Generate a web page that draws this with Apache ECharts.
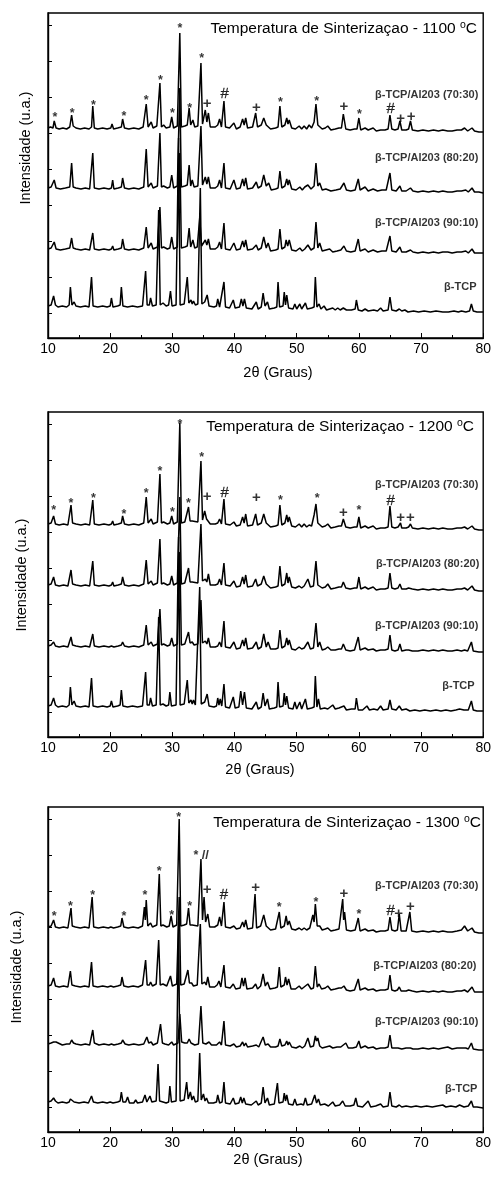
<!DOCTYPE html>
<html><head><meta charset="utf-8">
<script src="https://cdn.jsdelivr.net/npm/echarts@6/dist/echarts.min.js"></script>
<style>html,body{margin:0;padding:0;background:#fff}#c{width:494px;height:1183px}</style>
</head><body><div id="c"></div>
<script>
// ---------- data ----------
const xTickLabels = [10,20,30,40,50,60,70,80];
const yTickValues = [25,61,97,133,169,205,241,277,313];
const temps = ['1100','1200','1300'];
const sampleNames = ['β-TCP/Al203 (70:30)','β-TCP/Al203 (80:20)','β-TCP/Al203 (90:10)','β-TCP'];

// 1100 °C
const p1_7030 = [[10,210],[10.4,211],[10.8,210],[11.0,217],[11.3,210],[11.8,209],[12.4,210],[13.0,209],[13.5,211],[13.8,223],[14.05,212],[14.2,214],[14.5,210],[15.2,209],[15.9,210],[16.6,209],[17.0,211],[17.2,232],[17.45,210],[18.0,209],[18.8,210],[19.5,209],[20.1,210],[20.3,214],[20.55,209],[21.2,210],[21.8,211],[22.0,219],[22.3,210],[23.0,209],[23.8,210],[24.6,209],[25.3,211],[25.8,234],[26.1,211],[26.4,212],[26.6,216],[26.9,210],[27.5,212],[28.0,255],[28.25,211],[28.6,213],[29.0,210],[29.6,211],[29.9,221],[30.2,210],[30.8,212],[31.2,305],[31.45,211],[32.0,212],[32.4,213],[32.7,230],[32.95,213],[33.3,218],[33.6,211],[34.1,212],[34.6,275],[34.85,214],[35.3,228],[35.55,216],[35.8,225],[36.1,211],[36.9,211],[37.3,213],[37.6,219],[37.9,211],[38.3,237],[38.55,211],[39.2,210],[39.9,215],[40.3,209],[40.9,211],[41.3,219],[41.55,213],[41.8,220],[42.1,210],[42.9,211],[43.4,225],[43.7,211],[44.3,213],[44.7,220],[45.1,213],[45.4,215],[45.8,209],[46.6,210],[47.0,211],[47.3,232],[47.6,211],[48.1,213],[48.4,220],[48.6,214],[48.8,218],[49.2,210],[49.8,209],[50.4,212],[50.8,209],[51.2,212],[51.6,209],[52.0,213],[52.4,210],[52.8,216],[53.1,234],[53.4,213],[53.7,214],[54.1,209],[54.6,210],[55.0,212],[55.5,208],[56.2,209],[56.8,210],[57.2,210],[57.5,224],[57.9,209],[58.6,208],[59.3,209],[59.7,209],[60.0,220],[60.3,208],[61.0,210],[61.5,208],[62.3,210],[62.8,207],[63.5,208],[64.2,208],[64.7,209],[65.0,223],[65.3,209],[65.8,208],[66.3,209],[66.6,217],[66.9,208],[67.6,208],[68.0,209],[68.3,217],[68.6,208],[69.5,207],[70.3,208],[71.2,207],[72.0,208],[72.8,207],[73.5,208],[74.3,207],[75.0,207],[75.8,208],[76.5,208],[77.0,210],[77.5,207],[78.2,210],[78.6,207],[79.3,206],[80,206]];
const p1_8020 = [[10,150],[10.5,151],[10.8,150],[11.0,158],[11.3,150],[12.0,149],[12.8,150],[13.5,151],[13.8,175],[14.05,151],[14.2,153],[14.5,150],[15.3,149],[16.0,150],[16.7,149],[17.0,151],[17.2,185],[17.45,150],[18.2,149],[19.0,150],[19.8,149],[20.2,150],[20.4,158],[20.6,149],[21.3,150],[21.8,151],[22.0,160],[22.3,150],[23.0,149],[23.8,150],[24.6,149],[25.4,151],[25.8,189],[26.1,151],[26.4,152],[26.6,155],[26.9,150],[27.6,152],[28.0,205],[28.25,151],[28.6,152],[29.2,150],[29.6,151],[29.9,163],[30.2,150],[30.8,152],[31.2,250],[31.45,151],[32.0,152],[32.4,153],[32.7,173],[32.95,152],[33.2,158],[33.5,151],[34.1,152],[34.6,212],[34.85,153],[35.3,161],[35.55,154],[35.8,161],[36.1,150],[36.9,150],[37.3,152],[37.6,158],[37.9,150],[38.3,175],[38.55,150],[39.3,149],[39.9,158],[40.3,149],[40.9,150],[41.3,159],[41.55,152],[41.8,160],[42.1,149],[42.9,150],[43.5,156],[43.8,150],[44.3,152],[44.7,163],[45.1,152],[45.5,155],[45.9,148],[46.6,149],[47.0,150],[47.3,167],[47.6,150],[48.1,152],[48.4,159],[48.6,153],[48.8,158],[49.2,149],[49.9,148],[50.5,151],[50.9,148],[51.3,151],[51.8,153],[52.3,149],[52.8,152],[53.1,175],[53.4,152],[53.7,155],[54.1,148],[54.7,149],[55.0,151],[55.5,147],[56.3,148],[57.0,149],[57.6,155],[58.0,148],[58.7,147],[59.4,148],[59.9,159],[60.2,148],[61.0,151],[61.5,147],[62.3,149],[63.0,147],[63.7,148],[64.4,148],[64.7,149],[65.0,165],[65.3,148],[66.0,147],[66.6,152],[66.9,147],[67.6,147],[68.3,150],[68.7,147],[69.5,146],[70.3,147],[71.2,146],[72.0,147],[72.8,146],[73.5,147],[74.3,146],[75.0,146],[75.8,147],[76.5,147],[77.2,148],[77.6,146],[78.2,150],[78.6,146],[79.3,146],[80,145]];
const p1_9010 = [[10,89],[10.5,90],[10.8,89],[11.0,96],[11.3,89],[12.0,88],[12.8,89],[13.5,90],[13.8,100],[14.05,90],[14.2,92],[14.5,89],[15.3,88],[16.0,89],[16.7,88],[17.0,90],[17.2,105],[17.45,89],[18.2,88],[19.0,89],[19.8,88],[20.2,89],[20.4,92],[20.6,88],[21.3,89],[21.8,90],[22.0,99],[22.3,89],[23.0,88],[23.8,89],[24.6,88],[25.4,90],[25.8,111],[26.1,90],[26.4,91],[26.6,95],[26.9,89],[27.6,91],[28.0,131],[28.25,90],[28.6,91],[29.2,89],[29.6,90],[29.9,101],[30.2,89],[30.8,91],[31.2,185],[31.45,90],[32.0,91],[32.4,92],[32.7,110],[32.95,91],[33.3,98],[33.6,90],[34.0,91],[34.4,120],[34.7,92],[35.3,98],[35.55,93],[35.8,99],[36.1,89],[36.9,89],[37.3,91],[37.6,96],[37.9,89],[38.3,115],[38.55,89],[39.3,88],[39.9,95],[40.3,88],[40.9,89],[41.3,97],[41.55,91],[41.8,98],[42.1,88],[42.9,89],[43.5,93],[43.8,88],[44.3,90],[44.7,101],[45.1,90],[45.4,95],[45.8,87],[46.6,88],[47.0,89],[47.3,109],[47.6,89],[48.1,91],[48.3,98],[48.55,92],[48.8,98],[49.2,88],[49.9,87],[50.5,90],[50.9,87],[51.3,89],[51.8,93],[52.3,88],[52.8,90],[53.1,116],[53.4,90],[53.7,95],[54.1,87],[54.7,88],[55.3,89],[55.8,86],[56.5,87],[57.1,88],[57.6,92],[58.0,87],[58.7,86],[59.4,87],[59.9,99],[60.2,87],[61.0,89],[61.5,86],[62.3,88],[63.0,86],[63.7,87],[64.4,87],[64.7,88],[65.0,102],[65.3,87],[66.0,86],[66.6,91],[66.9,86],[67.6,86],[68.3,88],[68.7,86],[69.5,85],[70.3,86],[71.2,85],[72.0,86],[72.8,85],[73.5,86],[74.3,86],[75.0,85],[75.8,86],[76.5,86],[77.2,87],[77.6,85],[78.2,89],[78.6,85],[79.3,85],[80,85]];
const p1_tcp = [[10,32],[10.5,33],[10.7,32],[10.9,42],[11.2,33],[11.6,31],[12.3,32],[13.0,31],[13.4,33],[13.6,51],[13.85,33],[14.2,36],[14.5,32],[15.2,31],[16.0,32],[16.6,31],[16.8,33],[17.0,61],[17.25,32],[18.0,31],[18.8,32],[19.5,31],[20.0,32],[20.2,40],[20.45,31],[21.2,32],[21.6,33],[21.8,51],[22.05,32],[22.8,31],[23.6,32],[24.4,31],[25.2,32],[25.5,33],[25.7,67],[25.95,33],[26.3,33],[26.5,40],[26.8,32],[27.4,33],[27.8,128],[28.05,33],[28.5,35],[29.0,32],[29.4,33],[29.7,47],[29.95,32],[30.6,33],[31.0,200],[31.25,33],[31.9,34],[32.2,35],[32.4,61],[32.65,35],[33.0,38],[33.2,34],[33.4,37],[33.7,33],[34.1,34],[34.5,150],[34.75,34],[35.2,36],[35.4,34],[35.6,43],[35.9,32],[36.7,31],[37.1,32],[37.3,39],[37.6,31],[37.9,32],[38.3,56],[38.55,31],[39.2,30],[39.8,38],[40.1,30],[40.8,31],[41.1,39],[41.35,32],[41.6,39],[41.9,30],[42.8,29],[43.5,36],[43.8,29],[44.3,31],[44.6,45],[44.9,32],[45.3,36],[45.6,29],[46.4,30],[46.8,31],[47.0,56],[47.25,31],[47.8,32],[48.0,46],[48.2,33],[48.4,43],[48.7,30],[49.4,29],[49.7,34],[50.0,29],[50.5,34],[50.8,29],[51.4,35],[51.7,29],[52.4,30],[52.8,31],[53.0,61],[53.25,31],[53.6,34],[53.9,29],[54.4,32],[54.8,28],[55.8,30],[56.2,28],[56.6,30],[57.0,28],[57.5,30],[58.0,28],[58.8,28],[59.4,29],[59.6,38],[59.9,28],[60.5,27],[61.0,29],[61.5,27],[62.4,28],[63.0,27],[63.5,30],[63.9,27],[64.7,28],[65.0,41],[65.3,28],[66.0,27],[66.5,29],[66.9,27],[67.4,28],[67.9,26],[68.8,27],[69.6,26],[70.5,27],[71.5,26],[72.4,27],[73.5,26],[74.4,26],[75.3,27],[76.0,26],[76.5,27],[77.2,26],[77.8,27],[78.1,34],[78.4,27],[79.0,26],[80,26]];

// 1200 °C
const p2_7030 = [[10,213],[10.5,214],[10.7,213],[10.9,221],[11.2,213],[11.8,212],[12.5,213],[13.2,212],[13.5,214],[13.7,232],[13.95,214],[14.2,215],[14.5,213],[15.3,212],[16.0,213],[16.7,212],[17.0,214],[17.2,237],[17.45,213],[18.2,212],[19.0,213],[19.8,212],[20.2,213],[20.4,216],[20.6,212],[21.3,213],[21.8,214],[22.0,221],[22.3,213],[23.0,212],[23.8,213],[24.6,212],[25.4,214],[25.8,240],[26.1,214],[26.4,214],[26.6,218],[26.9,213],[27.6,215],[28.0,263],[28.25,214],[28.6,215],[29.2,213],[29.6,214],[29.9,221],[30.2,213],[30.8,215],[31.2,314],[31.45,214],[32.0,215],[32.3,216],[32.6,230],[32.85,216],[33.2,216],[33.5,214],[34.1,215],[34.6,276],[34.85,217],[35.2,226],[35.5,218],[35.8,220],[36.1,213],[36.9,213],[37.3,214],[37.6,218],[37.9,213],[38.3,238],[38.55,213],[39.3,212],[39.9,215],[40.3,211],[40.9,212],[41.3,220],[41.55,214],[41.8,223],[42.1,211],[42.9,212],[43.4,223],[43.7,212],[44.3,214],[44.7,223],[45.1,214],[45.4,216],[45.8,210],[46.6,211],[47.0,212],[47.3,232],[47.6,212],[48.1,214],[48.4,222],[48.6,215],[48.8,220],[49.2,211],[49.8,210],[50.4,213],[50.8,210],[51.2,213],[51.6,210],[52.0,212],[52.4,211],[52.8,222],[53.1,233],[53.4,214],[53.7,215],[54.1,210],[54.6,211],[55.0,213],[55.5,209],[56.2,210],[56.8,211],[57.2,211],[57.5,218],[57.9,210],[58.6,209],[59.3,210],[59.7,210],[60.0,220],[60.3,209],[61.0,211],[61.5,209],[62.3,211],[62.8,208],[63.5,209],[64.2,209],[64.7,210],[65.0,231],[65.3,210],[65.8,209],[66.3,210],[66.7,214],[66.9,209],[67.6,209],[68.0,210],[68.3,213],[68.6,209],[69.5,208],[70.3,209],[71.2,208],[72.0,209],[72.8,208],[73.5,209],[74.3,208],[75.0,208],[75.8,209],[76.5,209],[77.0,210],[77.5,208],[78.2,211],[78.6,208],[79.3,207],[80,207]];
const p2_8020 = [[10,152],[10.5,153],[10.7,152],[10.9,160],[11.2,152],[11.8,151],[12.5,152],[13.2,151],[13.5,153],[13.7,167],[13.95,153],[14.2,154],[14.5,152],[15.3,151],[16.0,152],[16.7,151],[17.0,153],[17.2,176],[17.45,152],[18.2,151],[19.0,152],[19.8,151],[20.2,152],[20.4,155],[20.6,151],[21.3,152],[21.8,153],[22.0,160],[22.3,152],[23.0,151],[23.8,152],[24.6,151],[25.4,153],[25.8,177],[26.1,153],[26.4,153],[26.6,156],[26.9,152],[27.6,154],[28.0,198],[28.25,153],[28.6,154],[29.2,152],[29.6,153],[29.9,161],[30.2,152],[30.8,154],[31.2,240],[31.45,153],[32.0,154],[32.3,155],[32.6,169],[32.85,155],[33.2,155],[33.5,153],[34.1,154],[34.6,213],[34.85,156],[35.3,158],[35.55,155],[35.8,163],[36.1,152],[36.9,152],[37.3,153],[37.6,158],[37.9,152],[38.3,174],[38.55,152],[39.3,151],[39.9,156],[40.3,150],[40.9,151],[41.3,160],[41.55,153],[41.8,162],[42.1,150],[42.9,151],[43.4,158],[43.7,151],[44.3,153],[44.7,161],[45.1,153],[45.4,155],[45.8,149],[46.6,150],[47.0,151],[47.3,171],[47.6,151],[48.1,153],[48.4,164],[48.6,154],[48.8,160],[49.2,150],[49.8,149],[50.4,151],[50.8,149],[51.2,151],[51.8,158],[52.2,150],[52.7,151],[53.1,176],[53.4,152],[53.7,153],[54.1,149],[54.6,150],[55.0,153],[55.5,148],[56.2,149],[56.8,150],[57.2,150],[57.5,155],[57.9,149],[58.6,148],[59.3,149],[59.7,149],[60.0,160],[60.3,148],[61.0,150],[61.5,148],[62.3,150],[62.8,147],[63.5,148],[64.2,148],[64.7,149],[65.0,164],[65.3,149],[65.8,148],[66.3,149],[66.6,153],[66.9,148],[67.6,148],[68.0,149],[68.3,151],[68.6,148],[69.5,147],[70.3,148],[71.2,147],[72.0,148],[72.8,147],[73.5,148],[74.3,147],[75.0,147],[75.8,148],[76.5,148],[77.0,149],[77.5,147],[78.2,151],[78.6,147],[79.3,146],[80,146]];
const p2_9010 = [[10,91],[10.5,92],[10.7,91],[10.9,95],[11.2,91],[11.8,90],[12.5,91],[13.2,90],[13.5,92],[13.7,100],[13.95,92],[14.2,93],[14.5,91],[15.3,90],[16.0,91],[16.7,90],[17.0,92],[17.2,103],[17.45,91],[18.2,90],[19.0,91],[19.8,90],[20.2,91],[20.4,93],[20.6,90],[21.3,91],[21.8,92],[22.0,95],[22.3,91],[23.0,90],[23.8,91],[24.6,90],[25.4,92],[25.8,112],[26.1,92],[26.4,92],[26.6,95],[26.9,91],[27.6,93],[28.0,128],[28.25,92],[28.6,93],[29.2,91],[29.6,92],[29.9,99],[30.2,91],[30.8,93],[31.2,185],[31.45,92],[32.0,93],[32.3,94],[32.6,105],[32.85,94],[33.2,95],[33.5,92],[34.1,93],[34.6,137],[34.85,94],[35.3,96],[35.55,93],[35.8,99],[36.1,90],[36.9,90],[37.3,91],[37.6,95],[37.9,90],[38.3,116],[38.55,90],[39.3,89],[39.9,95],[40.3,88],[40.9,89],[41.3,97],[41.55,91],[41.8,99],[42.1,88],[42.9,89],[43.5,95],[43.8,88],[44.3,90],[44.7,103],[45.1,90],[45.4,95],[45.8,88],[46.6,88],[47.0,89],[47.3,107],[47.6,89],[48.1,91],[48.4,99],[48.6,92],[48.8,97],[49.2,88],[49.8,87],[50.4,90],[50.8,88],[51.2,89],[51.8,95],[52.2,88],[52.7,89],[53.1,114],[53.4,90],[53.7,95],[54.1,87],[54.6,88],[55.0,90],[55.5,87],[56.2,87],[56.8,88],[57.2,88],[57.5,93],[57.9,87],[58.6,86],[59.3,87],[59.6,88],[59.9,100],[60.2,87],[61.0,89],[61.5,87],[62.3,88],[62.8,86],[63.5,87],[64.2,87],[64.7,88],[65.0,102],[65.3,87],[65.8,86],[66.3,87],[66.6,93],[66.9,86],[67.6,87],[68.0,87],[68.3,89],[68.6,86],[69.5,86],[70.3,87],[71.2,86],[72.0,87],[72.8,86],[73.5,87],[74.3,86],[75.0,86],[75.8,87],[76.5,86],[77.0,87],[77.5,86],[78.1,95],[78.4,86],[79.3,85],[80,85]];
const p2_tcp = [[10,31],[10.5,32],[10.7,31],[10.9,39],[11.2,32],[11.6,30],[12.3,31],[13.0,30],[13.4,32],[13.6,50],[13.85,32],[14.2,36],[14.5,31],[15.2,30],[16.0,31],[16.6,30],[16.8,32],[17.0,59],[17.25,31],[18.0,30],[18.8,31],[19.5,30],[20.0,31],[20.2,36],[20.45,30],[21.2,31],[21.6,32],[21.8,47],[22.05,31],[22.8,30],[23.6,31],[24.4,30],[25.2,31],[25.5,32],[25.7,65],[25.95,32],[26.3,32],[26.5,39],[26.8,31],[27.4,32],[27.8,120],[28.05,32],[28.5,33],[29.0,31],[29.4,32],[29.6,45],[29.85,31],[30.6,32],[31.0,200],[31.25,32],[31.9,33],[32.2,34],[32.4,57],[32.65,34],[33.0,37],[33.2,33],[33.4,37],[33.7,32],[34.0,33],[34.4,150],[34.65,33],[35.2,35],[35.4,33],[35.6,43],[35.9,31],[36.7,30],[37.1,31],[37.3,39],[37.5,32],[37.7,38],[37.95,31],[38.3,53],[38.55,30],[39.2,29],[39.8,40],[40.1,29],[40.7,30],[41.0,46],[41.3,32],[41.6,45],[41.9,29],[42.8,28],[43.5,35],[43.8,28],[44.3,30],[44.6,44],[44.9,31],[45.3,38],[45.6,28],[46.4,29],[46.8,30],[47.0,55],[47.25,30],[47.8,31],[48.0,44],[48.2,32],[48.4,41],[48.7,29],[49.4,28],[49.7,35],[50.0,28],[50.5,35],[50.8,28],[51.4,38],[51.7,28],[52.4,29],[52.8,30],[53.0,61],[53.25,30],[53.5,38],[53.8,28],[54.5,29],[55.0,28],[55.8,32],[56.2,28],[56.8,29],[57.6,31],[58.0,27],[58.8,28],[59.4,28],[59.6,39],[59.9,27],[60.6,27],[61.3,31],[61.7,27],[62.4,28],[63.0,27],[63.5,31],[63.9,27],[64.7,28],[65.0,37],[65.3,28],[66.0,27],[66.5,31],[66.9,27],[67.6,28],[68.2,26],[69.0,27],[69.8,26],[70.6,27],[71.5,26],[72.4,27],[73.2,26],[74.0,27],[74.8,26],[75.6,27],[76.2,28],[76.5,30],[76.9,27],[77.6,27],[78.1,36],[78.4,27],[79.0,26],[80,26]];

// 1300 °C
const p3_7030 = [[10,205],[10.5,206],[10.7,205],[10.9,212],[11.2,205],[11.8,204],[12.5,205],[13.2,204],[13.5,206],[13.7,224],[13.9,206],[14.1,208],[14.4,205],[15.2,204],[15.9,205],[16.6,204],[16.9,206],[17.1,235],[17.35,205],[18.1,204],[18.9,205],[19.7,204],[20.1,205],[20.3,207],[20.55,204],[21.2,205],[21.7,206],[21.9,214],[22.2,205],[22.9,204],[23.7,205],[24.5,204],[25.2,206],[25.5,225],[25.65,212],[25.8,232],[26.05,206],[26.3,206],[26.5,209],[26.8,205],[27.5,207],[27.9,258],[28.15,206],[28.5,207],[29.1,205],[29.5,206],[29.8,216],[30.1,205],[30.7,207],[31.1,313],[31.35,206],[31.9,207],[32.3,208],[32.6,224],[32.85,207],[33.2,207],[33.5,205],[34.1,206],[34.6,273],[34.85,212],[35.1,235],[35.35,210],[35.7,218],[36.0,205],[36.8,205],[37.3,207],[37.6,215],[37.9,206],[38.3,230],[38.55,205],[39.3,204],[39.9,206],[40.3,203],[40.9,204],[41.3,210],[41.55,205],[41.8,212],[42.1,203],[42.9,204],[43.3,238],[43.55,204],[44.2,206],[44.7,217],[45.1,206],[45.4,208],[45.8,202],[46.6,203],[46.9,204],[47.2,220],[47.45,204],[48.0,206],[48.3,216],[48.55,207],[48.8,211],[49.2,203],[49.8,202],[50.4,204],[50.8,202],[51.2,204],[51.6,202],[52.1,204],[52.6,217],[52.8,210],[53.0,228],[53.3,206],[53.7,206],[54.1,202],[54.6,203],[55.0,204],[55.5,201],[56.2,202],[56.8,203],[57.1,204],[57.4,233],[57.55,212],[57.7,220],[58.0,202],[58.7,201],[59.4,202],[59.7,203],[59.9,214],[60.2,201],[61.0,203],[61.5,201],[62.3,202],[62.8,200],[63.5,201],[64.2,201],[64.7,202],[65.0,215],[65.3,202],[65.8,201],[66.2,202],[66.5,218],[66.8,201],[67.6,201],[67.9,202],[68.2,220],[68.5,201],[69.3,200],[70.3,201],[71.2,200],[72.0,201],[72.8,200],[73.5,201],[74.3,200],[75.0,200],[75.8,201],[76.5,202],[77.0,206],[77.5,201],[78.2,204],[78.6,200],[79.3,199],[80,199]];
const p3_8020 = [[10,146],[10.5,147],[10.7,146],[10.9,154],[11.2,146],[11.8,145],[12.5,146],[13.2,145],[13.4,147],[13.6,161],[13.85,147],[14.1,148],[14.4,146],[15.2,145],[15.9,146],[16.6,145],[16.8,147],[17.0,170],[17.25,146],[18.0,145],[18.8,146],[19.6,145],[20.1,146],[20.3,148],[20.55,145],[21.2,146],[21.7,147],[21.9,155],[22.2,146],[22.9,145],[23.7,146],[24.5,145],[25.2,147],[25.7,172],[25.95,147],[26.3,147],[26.5,150],[26.8,146],[27.4,148],[27.8,192],[28.05,147],[28.5,148],[29.1,146],[29.4,147],[29.7,156],[30.0,146],[30.7,148],[31.1,235],[31.35,147],[31.9,148],[32.2,149],[32.5,162],[32.75,149],[33.1,149],[33.4,146],[34.0,147],[34.5,208],[34.75,148],[35.2,150],[35.45,147],[35.7,155],[36.0,145],[36.8,145],[37.2,147],[37.5,151],[37.8,145],[38.3,167],[38.55,145],[39.3,144],[39.8,148],[40.2,143],[40.9,144],[41.2,154],[41.45,146],[41.7,154],[42.0,143],[42.9,144],[43.4,148],[43.7,143],[44.2,146],[44.6,158],[44.95,146],[45.3,150],[45.7,143],[46.5,144],[46.9,145],[47.2,165],[47.45,145],[48.0,147],[48.2,155],[48.45,147],[48.7,153],[49.1,143],[49.8,143],[50.4,146],[50.8,143],[51.2,145],[51.8,148],[52.3,143],[52.7,144],[53.0,166],[53.3,145],[53.6,148],[54.0,143],[54.6,144],[55.0,146],[55.5,142],[56.2,143],[56.8,144],[57.2,144],[57.6,146],[58.0,142],[58.6,141],[59.3,142],[59.6,143],[59.9,153],[60.2,142],[61.0,144],[61.5,142],[62.3,143],[62.8,141],[63.5,142],[64.2,142],[64.7,143],[65.0,157],[65.3,142],[65.8,141],[66.2,142],[66.5,145],[66.8,141],[67.6,141],[68.0,142],[68.3,143],[68.6,141],[69.3,140],[70.3,141],[71.2,140],[72.0,141],[72.8,140],[73.5,141],[74.3,140],[75.0,140],[75.8,141],[76.5,141],[77.0,142],[77.5,140],[78.2,145],[78.6,140],[79.3,140],[80,140]];
const p3_9010 = [[10,88],[10.5,89],[10.7,88],[10.9,90],[11.1,88],[11.3,90],[11.6,88],[12.3,87],[13.0,88],[13.5,88],[13.8,92],[14.1,89],[14.5,88],[15.3,87],[16.0,88],[16.7,87],[17.0,89],[17.2,102],[17.45,89],[18.2,87],[19.0,88],[19.8,87],[20.2,88],[20.4,89],[20.6,87],[21.3,88],[21.8,89],[22.0,92],[22.4,88],[23.0,87],[23.8,88],[24.6,87],[25.4,88],[25.9,95],[26.2,89],[26.6,90],[26.9,87],[27.6,89],[28.1,108],[28.4,89],[28.8,88],[29.4,87],[29.9,90],[30.2,87],[30.9,89],[31.2,118],[31.5,90],[32.0,89],[32.4,89],[32.7,93],[33.0,89],[33.3,89],[33.6,87],[34.2,88],[34.6,126],[34.9,89],[35.4,88],[35.9,90],[36.3,87],[37.1,87],[37.6,90],[37.9,87],[38.3,111],[38.55,87],[39.3,86],[39.9,88],[40.3,85],[40.9,86],[41.3,90],[41.55,86],[41.8,89],[42.1,85],[42.9,86],[43.5,87],[43.9,85],[44.6,95],[44.95,87],[45.4,88],[45.8,85],[46.6,85],[47.0,86],[47.3,93],[47.6,86],[48.1,87],[48.4,91],[48.6,87],[48.8,90],[49.2,85],[49.9,84],[50.5,86],[50.9,84],[51.3,86],[51.8,94],[52.2,85],[52.7,86],[53.0,96],[53.2,91],[53.4,94],[53.7,86],[54.1,84],[54.7,85],[55.3,86],[55.8,84],[56.5,85],[57.1,85],[57.9,89],[58.3,84],[59.0,84],[59.6,85],[60.0,91],[60.3,84],[61.0,86],[61.5,84],[62.3,85],[62.8,83],[63.5,84],[64.2,84],[64.7,85],[65.0,97],[65.3,84],[65.8,84],[66.3,84],[66.6,86],[66.9,83],[67.6,84],[68.3,84],[68.7,83],[69.5,83],[70.3,84],[71.2,83],[72.0,84],[72.8,83],[73.5,84],[74.3,85],[75.0,83],[75.8,84],[76.5,84],[77.2,84],[77.6,83],[78.1,89],[78.4,83],[79.3,82],[80,82]];
const p3_tcp = [[10,30],[10.5,31],[10.7,30],[10.9,34],[11.2,31],[11.6,29],[12.3,30],[13.0,29],[13.4,30],[13.6,33],[13.75,31],[13.9,33],[14.2,30],[15.0,29],[15.8,30],[16.5,29],[16.8,31],[17.0,36],[17.3,30],[18.0,29],[18.8,30],[19.5,29],[20.0,30],[20.2,31],[20.45,29],[21.2,30],[21.6,31],[21.8,40],[22.05,30],[22.5,30],[22.8,35],[23.1,29],[23.8,29],[24.1,32],[24.4,29],[25.2,30],[25.6,37],[25.9,30],[26.2,30],[26.4,36],[26.7,30],[27.4,31],[27.7,68],[27.95,31],[28.5,30],[29.0,29],[29.4,30],[29.6,46],[29.85,30],[30.6,31],[31.0,210],[31.25,31],[31.9,32],[32.1,33],[32.3,50],[32.55,33],[32.9,40],[33.15,32],[33.4,36],[33.7,30],[34.1,31],[34.4,79],[34.65,32],[35.0,38],[35.25,31],[35.5,34],[35.8,29],[36.6,29],[37.1,30],[37.3,37],[37.6,29],[38.0,30],[38.3,50],[38.55,29],[39.3,28],[39.8,34],[40.1,28],[40.7,29],[41.0,35],[41.25,29],[41.5,34],[41.8,28],[42.7,27],[43.5,31],[43.8,27],[44.3,29],[44.6,45],[44.9,29],[45.3,34],[45.6,27],[46.4,28],[46.7,29],[46.9,49],[47.15,29],[47.8,30],[48.0,39],[48.2,31],[48.4,37],[48.7,28],[49.4,27],[49.7,33],[50.0,27],[50.7,28],[51.1,27],[51.4,34],[51.7,27],[52.4,28],[52.9,37],[53.2,29],[53.5,33],[53.8,27],[54.5,28],[55.1,26],[55.8,30],[56.2,26],[56.9,27],[57.4,31],[57.8,26],[58.6,26],[59.2,27],[59.5,34],[59.8,26],[60.6,25],[61.5,31],[61.9,25],[62.7,26],[63.5,28],[63.9,25],[64.7,26],[65.0,40],[65.3,26],[66.0,25],[66.5,27],[66.9,25],[67.6,26],[68.4,25],[69.2,26],[70.0,25],[70.9,26],[71.8,25],[72.6,26],[73.5,27],[74.0,25],[74.8,26],[75.6,25],[76.2,27],[76.5,28],[76.9,25],[77.6,26],[78.1,31],[78.4,25],[79.0,25],[80,24]];

// peak markers [2θ, intensity, symbol]
const marks1 = [[11.1,224,'*'],[13.9,228,'*'],[17.3,236,'*'],[22.2,225,'*'],[25.8,241,'*'],[28.1,261,'*'],[30.0,228,'*'],[31.2,313,'*'],[32.8,233,'*'],[34.7,283,'*'],[35.6,235,'+'],[38.4,245,'#'],[43.5,231,'+'],[47.4,239,'*'],[53.2,240,'*'],[57.6,232,'+'],[60.1,227,'*'],[65.1,230,'#'],[66.7,220,'+'],[68.4,222,'+']];
const marks2 = [[10.9,230,'*'],[13.7,237,'*'],[17.3,242,'*'],[22.2,226,'*'],[25.8,247,'*'],[28.0,269,'*'],[30.0,228,'*'],[31.2,316,'*'],[32.6,237,'*'],[34.7,283,'*'],[35.6,241,'+'],[38.4,245,'#'],[43.5,240,'+'],[47.4,240,'*'],[53.3,242,'*'],[57.5,225,'+'],[60.0,230,'*'],[65.1,237,'#'],[66.7,220,'+'],[68.3,220,'+']];
const marks3 = [[11.0,219,'*'],[13.6,229,'*'],[17.2,240,'*'],[22.2,219,'*'],[25.6,240,'*'],[27.9,264,'*'],[29.9,220,'*'],[31.0,318,'*'],[32.8,229,'*'],[33.8,280,'*'],[35.3,278,'//'],[35.6,243,'+'],[38.3,238,'#'],[43.4,245,'+'],[47.2,228,'*'],[53.1,233,'*'],[57.6,239,'+'],[60.0,221,'*'],[65.1,222,'#'],[66.4,219,'+'],[68.3,226,'+']];

// sample label anchors [2θ of right edge, intensity]
const labelPos1 = [[79.3,243],[79.3,180],[79.3,115],[79.0,51]];
const labelPos2 = [[79.3,252],[79.45,173],[79.3,111],[78.7,51]];
const labelPos3 = [[79.3,246],[79.0,166],[79.3,110],[79.15,43]];

// ---------- build ----------
const F = "'Liberation Sans', Arial, Helvetica, sans-serif";
const panels = [
  {series:[p1_7030,p1_8020,p1_9010,p1_tcp], marks:marks1, labels:labelPos1, top:13,
   title:{x:477,y:29}, yname:{x:26,y:148}, xname:{x:278,y:373}},
  {series:[p2_7030,p2_8020,p2_9010,p2_tcp], marks:marks2, labels:labelPos2, top:412,
   title:{x:474,y:427}, yname:{x:22,y:575}, xname:{x:260,y:770}},
  {series:[p3_7030,p3_8020,p3_9010,p3_tcp], marks:marks3, labels:labelPos3, top:807,
   title:{x:481,y:823}, yname:{x:17,y:967}, xname:{x:268,y:1160}}
];
const markStyle = {
  '*': {fontSize:12.5, fontWeight:'bold', offset:[0,3.5]},
  '+': {fontSize:15, fontWeight:'bold', offset:[0,1]},
  '#': {fontSize:15, fontWeight:'normal', offset:[0,1], textBorderColor:'#000', textBorderWidth:0.3},
  '//': {fontSize:13, fontWeight:'bold', offset:[0,1]}
};

const grid = [], xAxis = [], yAxis = [], series = [], graphic = [];
panels.forEach((p, i) => {
  grid.push({left:48, width:438, top:p.top, height:325, show:true, borderColor:'#000', borderWidth:1.4, backgroundColor:'transparent'});
  xAxis.push({gridIndex:i, type:'value', min:10, max:80, interval:10,
    axisLine:{show:true, onZero:false, lineStyle:{color:'#000', width:1.4}},
    axisTick:{show:true, inside:true, length:5, lineStyle:{color:'#000', width:1}},
    minorTick:{show:true, splitNumber:2, length:3, lineStyle:{color:'#000', width:1}},
    axisLabel:{color:'#000', fontSize:14, fontFamily:F, margin:4,
      formatter: v => xTickLabels.includes(v) ? String(v) : ''},
    splitLine:{show:false}});
  yAxis.push({gridIndex:i, type:'value', min:0, max:325,
    axisLine:{show:true, onZero:false, lineStyle:{color:'#000', width:1.4}},
    axisTick:{show:true, inside:true, length:4, customValues:yTickValues, lineStyle:{color:'#000', width:1}},
    axisLabel:{show:false}, splitLine:{show:false}});
  p.series.forEach((d, k) => {
    series.push({type:'line', name:sampleNames[k], xAxisIndex:i, yAxisIndex:i, data:d,
      showSymbol:false, symbol:'none', silent:true, z:2,
      lineStyle:{color:'#000', width:1.5}});
  });
  series.push({type:'scatter', xAxisIndex:i, yAxisIndex:i, silent:true, z:5,
    symbolSize:1, itemStyle:{color:'rgba(0,0,0,0)'},
    data: p.marks.map(m => ({value:[m[0], m[1]], name:m[2],
      label:Object.assign({show:true, position:'inside', formatter:m[2], color:'#000', fontFamily:F}, markStyle[m[2]])}))});
  series.push({type:'scatter', xAxisIndex:i, yAxisIndex:i, silent:true, z:5,
    symbolSize:1, itemStyle:{color:'rgba(0,0,0,0)'},
    data: p.labels.map((l, k) => ({value:[l[0], l[1]], name:sampleNames[k]})),
    label:{show:true, position:'left', distance:0, formatter:q => q.name, color:'#000', fontSize:11, fontWeight:'bold', fontFamily:F}});
  graphic.push({type:'text', x:p.title.x, y:p.title.y, silent:true, z:10,
    style:{text:'{a|Temperatura de Sinterizaçao - ' + temps[i] + ' }{s|o}{a|C}', align:'right', verticalAlign:'middle',
      rich:{a:{fontSize:15.5, fontFamily:F, fill:'#000', lineHeight:18},
            s:{fontSize:10.5, fontFamily:F, fill:'#000', lineHeight:7, verticalAlign:'top'}}}});
  graphic.push({type:'text', x:p.yname.x, y:p.yname.y, rotation:Math.PI/2, silent:true,
    style:{text:'Intensidade (u.a.)', font:'14.5px ' + F, fill:'#000', align:'center', verticalAlign:'middle'}});
  graphic.push({type:'text', x:p.xname.x, y:p.xname.y, silent:true,
    style:{text:'2θ (Graus)', font:'14.5px ' + F, fill:'#000', align:'center', verticalAlign:'middle'}});
});

const chart = echarts.init(document.getElementById('c'), null, {renderer:'canvas'});
chart.setOption({animation:false, backgroundColor:'#fff', grid, xAxis, yAxis, series, graphic});
</script></body></html>
